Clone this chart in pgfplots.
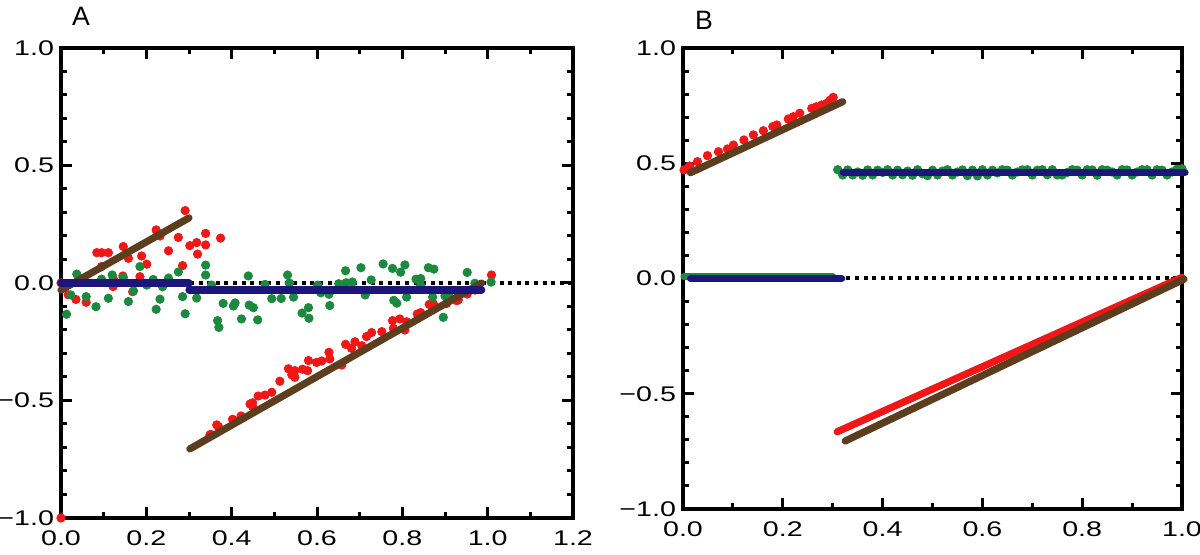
\documentclass[border=0pt]{standalone}
\usepackage{fontspec}
\setmainfont{Liberation Sans}
\newfontfamily\tickfont[FakeStretch=1.35]{Liberation Sans}
\usepackage{pgfplots}
\pgfplotsset{compat=1.18}

\definecolor{ptRed}{RGB}{242,22,22}
\definecolor{ptGreen}{RGB}{28,138,62}
\definecolor{ptBrown}{RGB}{92,62,30}
\definecolor{ptNavy}{RGB}{28,22,122}

\pgfplotsset{
    panel/.style={
        scale only axis,
        clip=false,
        clip marker paths=true,
        axis line style={line width=2pt},
        every tick/.style={black, line width=1.5pt},
        major tick length=5.5pt, minor tick length=2.8pt,
        tick align=inside,
        ymin=-1, ymax=1,
        ytick={-1,-0.5,0,0.5,1},
        yticklabels={−1.0,−0.5,0.0,0.5,1.0},
        minor y tick num=4,
        minor x tick num=1,
        tick label style={font=\tickfont\fontsize{10.6}{12}\selectfont},
        xticklabel style={yshift=-3pt},
    },
    dots/.style={only marks, mark=*, mark size=2.1pt, #1, mark options={draw=none, fill=#1}},
    band/.style={no marks, line width=3.6pt, line cap=round, #1},
    zero/.style={no marks, black, line width=2pt, dash pattern=on 2pt off 2.3pt},
}

\begin{document}
\begin{tikzpicture}
\path[use as bounding box] (0,0) rectangle (600pt,277.5pt);

% ---------- panel A
\begin{axis}[panel, at={(30.5pt,18.5pt)}, anchor=south west,
    width=256pt, height=235pt,
    xmin=0, xmax=1.2,
    xtick={0,0.2,0.4,0.6,0.8,1.0,1.2},
    xticklabels={0.0,0.2,0.4,0.6,0.8,1.0,1.2}]
\addplot[zero] coordinates {(0,0) (1.2,0)};
\addplot[dots=ptRed] coordinates {
 (0.000,-1.000)
 (0.000,0.000) (0.017,-0.050) (0.035,-0.070) (0.059,-0.082) (0.084,0.129) (0.095,0.129)
 (0.111,0.129) (0.095,0.070) (0.123,0.016) (0.122,-0.015) (0.145,0.030) (0.146,0.155)
 (0.158,0.105) (0.168,-0.037) (0.185,0.027) (0.189,0.115) (0.201,0.080) (0.223,0.226)
 (0.232,0.200) (0.252,0.137) (0.275,0.194) (0.285,0.074) (0.291,0.308) (0.302,0.159)
 (0.318,0.172) (0.320,0.123) (0.339,0.211) (0.339,0.162) (0.374,0.191)
 (0.349,-0.647) (0.351,-0.644) (0.365,-0.604) (0.369,-0.611) (0.402,-0.580) (0.404,-0.583)
 (0.422,-0.566) (0.443,-0.515) (0.449,-0.526) (0.449,-0.510) (0.462,-0.481) (0.478,-0.477)
 (0.494,-0.465) (0.513,-0.418) (0.533,-0.365) (0.541,-0.391) (0.548,-0.401) (0.548,-0.373)
 (0.566,-0.367) (0.580,-0.330) (0.578,-0.373) (0.599,-0.338) (0.611,-0.332) (0.628,-0.295)
 (0.630,-0.323) (0.658,-0.349) (0.667,-0.261) (0.681,-0.278) (0.689,-0.250) (0.705,-0.267)
 (0.716,-0.228) (0.728,-0.211) (0.752,-0.207) (0.777,-0.160) (0.779,-0.193) (0.794,-0.153)
 (0.806,-0.200) (0.810,-0.165) (0.835,-0.132) (0.843,-0.126) (0.863,-0.091) (0.873,-0.089)
 (0.904,-0.087) (0.927,-0.075) (0.931,-0.072) (0.952,-0.047) (0.970,-0.030) (1.009,0.034)
};
\addplot[dots=ptGreen] coordinates {
 (0.013,-0.133) (0.023,-0.051) (0.037,0.038) (0.059,-0.058) (0.082,-0.101) (0.095,0.016)
 (0.111,-0.065) (0.120,0.034) (0.146,0.023) (0.158,-0.079) (0.170,-0.034) (0.185,0.070)
 (0.201,-0.009) (0.216,0.015) (0.223,-0.112) (0.232,-0.069) (0.238,-0.016) (0.252,0.021)
 (0.275,0.047) (0.285,-0.058) (0.291,-0.131) (0.318,-0.064) (0.339,0.076) (0.339,0.034)
 (0.353,-0.009) (0.367,-0.160) (0.370,-0.189) (0.380,-0.087) (0.404,-0.098) (0.408,-0.085)
 (0.423,-0.153) (0.439,0.030) (0.441,-0.094) (0.451,-0.105) (0.461,-0.157) (0.478,-0.006)
 (0.494,-0.067) (0.516,-0.066) (0.531,0.034) (0.535,0.000) (0.545,-0.060) (0.565,-0.128)
 (0.580,-0.105) (0.581,-0.150) (0.602,-0.009) (0.609,-0.042) (0.628,-0.048) (0.630,-0.096)
 (0.651,-0.003) (0.667,0.052) (0.668,0.001) (0.683,0.004) (0.703,0.065) (0.713,-0.051)
 (0.727,0.013) (0.755,0.081) (0.777,0.062) (0.780,-0.074) (0.787,-0.086) (0.796,0.046)
 (0.806,0.077) (0.810,-0.060) (0.832,0.016) (0.843,0.019) (0.843,-0.011) (0.861,0.065)
 (0.874,0.059) (0.871,-0.060) (0.896,-0.146) (0.900,-0.055) (0.908,-0.051) (0.952,0.045)
 (0.970,-0.001) (1.008,0.004)
};
\addplot[band=ptBrown] coordinates {(0.000,-0.030) (0.300,0.277)};
\addplot[band=ptBrown] coordinates {(0.302,-0.706) (0.986,0.000)};
\addplot[band=ptNavy] coordinates {(0.000,0.000) (0.300,0.000)};
\addplot[band=ptNavy] coordinates {(0.300,-0.030) (0.986,-0.030)};
\end{axis}

% ---------- panel B
\begin{axis}[panel, at={(341.5pt,23pt)}, anchor=south west,
    width=249.5pt, height=230.5pt,
    xmin=0, xmax=1,
    xtick={0,0.2,0.4,0.6,0.8,1.0},
    xticklabels={0.0,0.2,0.4,0.6,0.8,1.0}]
\addplot[zero] coordinates {(0,0) (1,0)};
\addplot[dots=ptRed] coordinates {
 (0.002,0.471) (0.013,0.488) (0.029,0.507) (0.049,0.533) (0.071,0.550) (0.089,0.562)
 (0.101,0.579) (0.122,0.601) (0.141,0.623) (0.161,0.641) (0.180,0.659) (0.188,0.666)
 (0.211,0.692) (0.221,0.702) (0.234,0.717) (0.258,0.738) (0.267,0.745) (0.278,0.753)
 (0.288,0.760) (0.295,0.774) (0.301,0.786)
};
\addplot[band=ptRed] coordinates {(0.309,-0.665) (1.000,0.005)};
\addplot[band=ptGreen] coordinates {(0.002,0.007) (0.300,0.007)};
\addplot[dots=ptGreen] coordinates {
 (0.31,0.472) (0.32,0.449) (0.33,0.471) (0.34,0.449) (0.35,0.462) (0.36,0.448) (0.37,0.471)
 (0.38,0.449) (0.39,0.470) (0.40,0.460) (0.41,0.472) (0.42,0.449) (0.43,0.470) (0.44,0.450)
 (0.45,0.466) (0.46,0.448) (0.47,0.472) (0.48,0.454) (0.49,0.446) (0.50,0.470) (0.51,0.449)
 (0.52,0.466) (0.53,0.472) (0.54,0.449) (0.55,0.462) (0.56,0.471) (0.57,0.446) (0.58,0.470)
 (0.59,0.445) (0.60,0.472) (0.61,0.449) (0.62,0.470) (0.63,0.458) (0.64,0.472) (0.65,0.470)
 (0.66,0.449) (0.67,0.462) (0.68,0.471) (0.69,0.472) (0.70,0.449) (0.71,0.470) (0.72,0.472)
 (0.73,0.450) (0.74,0.472) (0.75,0.449) (0.76,0.449) (0.77,0.460) (0.78,0.472) (0.79,0.470)
 (0.80,0.449) (0.81,0.472) (0.82,0.471) (0.83,0.448) (0.84,0.472) (0.85,0.470) (0.86,0.462)
 (0.87,0.449) (0.88,0.472) (0.89,0.471) (0.90,0.449) (0.91,0.462) (0.92,0.472) (0.93,0.472)
 (0.94,0.449) (0.95,0.472) (0.96,0.470) (0.97,0.449) (0.98,0.462) (0.99,0.474) (1.00,0.476)
};
\addplot[band=ptBrown] coordinates {(0.015,0.459) (0.320,0.767)};
\addplot[band=ptBrown] coordinates {(0.325,-0.705) (1.004,-0.003)};
\addplot[band=ptNavy] coordinates {(0.015,0.000) (0.318,0.000)};
\addplot[band=ptNavy] coordinates {(0.321,0.460) (1.006,0.460)};
\end{axis}

\node[anchor=base, font=\fontsize{13.3}{15}\selectfont] at (40.5pt,264.5pt) {A};
\node[anchor=base, font=\fontsize{13.3}{15}\selectfont] at (352pt,262.5pt) {B};
\end{tikzpicture}
\end{document}
